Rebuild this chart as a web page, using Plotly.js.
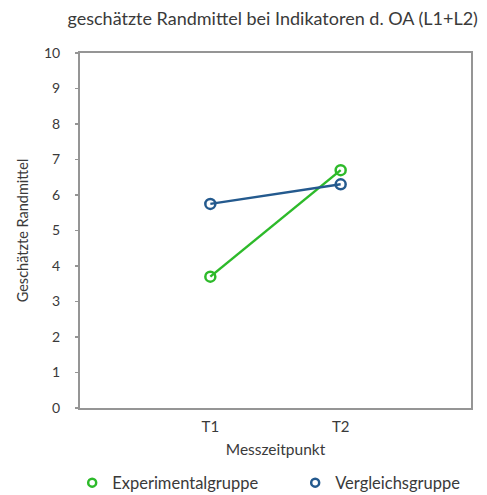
<!DOCTYPE html>
<html><head><meta charset="utf-8">
<script src="https://cdn.plot.ly/plotly-3.0.1.min.js"></script>
<style>html,body{margin:0;padding:0;background:#fff}#chart{width:487px;height:495px}</style>
</head><body><div id="chart"></div>
<script>
const categories = ["T1", "T2"];
const experimentalValues = [3.7, 6.7];
const vergleichValues = [5.75, 6.3];
const seriesNames = ["Experimentalgruppe", "Vergleichsgruppe"];
const seriesColors = ["#2dba2a", "#245a8e"];
const yTicks = [0,1,2,3,4,5,6,7,8,9,10];

const fam = "Lato, 'Open Sans', sans-serif";
const txt = "#3a3a3a";
const seriesValues = [experimentalValues, vergleichValues];
const traces = [];
seriesValues.forEach((vals, i) => {
  traces.push({x: categories, y: vals, name: seriesNames[i], type: "scatter", mode: "lines+markers",
    showlegend: false, line: {color: seriesColors[i], width: 2.5},
    marker: {symbol: "circle-open", size: 10, color: seriesColors[i], line: {width: 2.5}}});
});
seriesValues.forEach((vals, i) => {
  traces.push({x: [categories[0]], y: [null], name: seriesNames[i], type: "scatter", mode: "markers",
    showlegend: true, marker: {symbol: "circle-open", size: 8, color: seriesColors[i], line: {width: 2.5}}});
});
const layout = {
  width: 487, height: 495,
  margin: {l: 80, r: 16, t: 53, b: 87, autoexpand: false},
  paper_bgcolor: "#fff", plot_bgcolor: "#fff",
  font: {family: fam, color: txt, size: 14},
  showlegend: true,
  title: {text: "geschätzte Randmittel bei Indikatoren d. OA (L1+L2)", font: {family: fam, size: 18, color: txt},
          x: 0.56, xanchor: "center", y: 0.963, yanchor: "middle"},
  xaxis: {type: "category", range: [-1, 2], showgrid: false, zeroline: false,
          showline: true, mirror: true, linecolor: "#959595", linewidth: 2,
          ticks: "", tickfont: {size: 15}, ticklabelstandoff: 4, fixedrange: true,
          title: {text: "Messzeitpunkt", font: {size: 15.5}, standoff: 10}},
  yaxis: {range: [0, 10], tickvals: yTicks, showgrid: false, zeroline: false,
          showline: true, mirror: true, linecolor: "#959595", linewidth: 2,
          ticks: "outside", ticklen: 3, tickcolor: "#959595", tickwidth: 1.5,
          tickfont: {size: 14}, ticklabelstandoff: 12, fixedrange: true,
          title: {text: "Geschätzte Randmittel", font: {size: 14.5}, standoff: 12}},
  legend: {orientation: "h", x: -0.02, xanchor: "left", y: -0.211, yanchor: "middle",
           font: {size: 16.5}, itemwidth: 30, tracegroupgap: 0, entrywidth: 178, entrywidthmode: "pixels"}
};
Plotly.newPlot("chart", traces, layout, {displayModeBar: false, staticPlot: true});
</script></body></html>
